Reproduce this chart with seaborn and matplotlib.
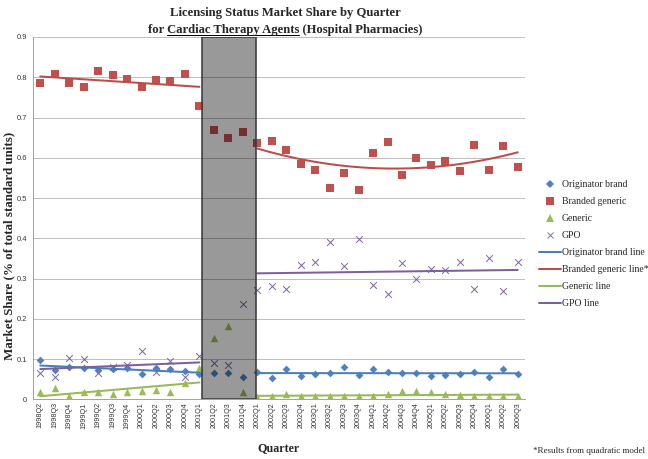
import numpy as np
import pandas as pd
import matplotlib
matplotlib.use("Agg")
import matplotlib.pyplot as plt
from matplotlib.patches import Rectangle
from matplotlib.lines import Line2D
import seaborn as sns

quarters = ["1998Q2", "1998Q3", "1998Q4", "1999Q1", "1999Q2", "1999Q3", "1999Q4",
            "2000Q1", "2000Q2", "2000Q3", "2000Q4", "2001Q1", "2001Q2", "2001Q3",
            "2001Q4", "2002Q1", "2002Q2", "2002Q3", "2002Q4", "2003Q1", "2003Q2",
            "2003Q3", "2003Q4", "2004Q1", "2004Q2", "2004Q3", "2004Q4", "2005Q1",
            "2005Q2", "2005Q3", "2005Q4", "2006Q1", "2006Q2", "2006Q3"]

originator = [0.098, 0.073, 0.079, 0.077, 0.073, 0.075, 0.077, 0.062, 0.077, 0.076, 0.070, 0.063,
              0.065, 0.065, 0.056,
              0.067, 0.052, 0.075, 0.058, 0.062, 0.065, 0.079,
              0.060, 0.075, 0.068, 0.065, 0.065, 0.058, 0.060, 0.062, 0.068, 0.056, 0.075, 0.062]
branded = [0.786, 0.809, 0.786, 0.776, 0.816, 0.806, 0.795, 0.777, 0.792, 0.791, 0.807, 0.728,
           0.668, 0.650, 0.665,
           0.637, 0.641, 0.620, 0.585, 0.570, 0.524, 0.563,
           0.519, 0.611, 0.638, 0.556, 0.599, 0.583, 0.592, 0.566, 0.631, 0.570, 0.628, 0.577]
generic = [0.019, 0.027, 0.007, 0.017, 0.017, 0.012, 0.017, 0.021, 0.024, 0.019, 0.040, 0.077,
           0.152, 0.181, 0.017,
           0.005, 0.007, 0.013, 0.007, 0.007, 0.007, 0.009,
           0.007, 0.008, 0.012, 0.021, 0.020, 0.017, 0.012, 0.011, 0.007, 0.008, 0.008, 0.007]
gpo = [0.066, 0.056, 0.102, 0.099, 0.065, 0.080, 0.085, 0.119, 0.069, 0.095, 0.056, 0.108,
       0.091, 0.085, 0.236,
       0.272, 0.282, 0.273, 0.333, 0.342, 0.390, 0.331,
       0.398, 0.284, 0.262, 0.338, 0.298, 0.323, 0.322, 0.342, 0.275, 0.350, 0.268, 0.342]

series_names = ["Originator brand", "Branded generic", "Generic", "GPO"]
pre_period = ("1998Q2", "2001Q1")
post_period = ("2002Q1", "2006Q3")
shaded_period = ("2001Q1", "2002Q1")

sns.set_theme(style="white")
SERIF = ["Liberation Serif", "DejaVu Serif"]
SANS = ["Liberation Sans", "DejaVu Sans"]
plt.rcParams["font.family"] = SANS

colors = {"Originator brand": "#4F81BD", "Branded generic": "#C0504D",
          "Generic": "#9BBB59", "GPO": "#8064A2"}
line_colors = {"Originator brand": "#4A7EBB", "Branded generic": "#BE4B48",
               "Generic": "#98B954", "GPO": "#7D5FA0"}
markers = {"Originator brand": "D", "Branded generic": "s", "Generic": "^", "GPO": "x"}
msizes = {"Originator brand": 30, "Branded generic": 55, "Generic": 55, "GPO": 45}

values = {"Originator brand": originator, "Branded generic": branded,
          "Generic": generic, "GPO": gpo}
idx = np.arange(len(quarters))
df = pd.concat([pd.DataFrame({"x": idx, "quarter": quarters, "share": values[n], "series": n})
                for n in series_names], ignore_index=True)

fig = plt.figure(figsize=(9, 6.375), dpi=72)
ax = fig.add_axes([33 / 648, 1 - 399.3 / 459, (525 - 33) / 648, (399.3 - 37) / 459])

for n in series_names:
    sub = df[df.series == n]
    kw = dict(linewidth=0) if n != "GPO" else dict(linewidth=1.0)
    sns.scatterplot(data=sub, x="x", y="share", marker=markers[n], color=colors[n],
                    s=msizes[n], ax=ax, zorder=3, legend=False, **kw)

# trend lines (fits to the data, per period)
p0, p1 = quarters.index(pre_period[0]), quarters.index(pre_period[1])
q0, q1 = quarters.index(post_period[0]), quarters.index(post_period[1])
for n in series_names:
    sub = df[df.series == n]
    pre = sub[(sub.x >= p0) & (sub.x <= p1)]
    post = sub[(sub.x >= q0) & (sub.x <= q1)]
    sns.regplot(data=pre, x="x", y="share", order=1, scatter=False, ci=None, ax=ax,
                line_kws=dict(color=line_colors[n], lw=2.0, zorder=4))
    order = 2 if n == "Branded generic" else 1
    sns.regplot(data=post, x="x", y="share", order=order, scatter=False, ci=None, ax=ax,
                line_kws=dict(color=line_colors[n], lw=2.0, zorder=4))

# shaded transition period
s0, s1 = quarters.index(shaded_period[0]), quarters.index(shaded_period[1])
ax.add_patch(Rectangle((s0 + 0.15, 0), (s1 - 0.1) - (s0 + 0.15), 0.9,
                       facecolor=(0.0, 0.0, 0.0, 0.40), edgecolor="#3c3c3c",
                       linewidth=1.6, zorder=6))

ax.set_xlim(-0.5, len(quarters) - 0.5)
ax.set_ylim(0, 0.9)
ax.set_yticks(np.arange(0, 0.91, 0.1))
ax.set_yticklabels(["0"] + [f"{v:.1f}" for v in np.arange(0.1, 0.91, 0.1)])
ax.set_xticks(idx)
ax.set_xticklabels(quarters, rotation=90, fontsize=7.3, color="#333333")
ax.set_xticks(np.arange(-0.5, len(quarters)), minor=True)
ax.tick_params(axis="x", which="major", length=0, pad=3)
ax.tick_params(axis="x", which="minor", length=4, color="#999999", width=0.8)
ax.tick_params(axis="y", length=4, color="#999999", width=0.8, labelsize=7.5,
               labelcolor="#333333", pad=2)
ax.yaxis.grid(True, color="#b8b8b8", linewidth=0.9)
ax.xaxis.grid(False)
ax.set_axisbelow(True)
for sp in ["top", "right"]:
    ax.spines[sp].set_visible(False)
for sp in ["left", "bottom"]:
    ax.spines[sp].set_color("#999999")
    ax.spines[sp].set_linewidth(0.9)
ax.set_xlabel("")
ax.set_ylabel("")

# legend
handles = []
labels = []
for n in series_names:
    if n == "GPO":
        handles.append(Line2D([], [], linestyle="none", marker="x", color=colors[n],
                              markersize=6.5, markeredgewidth=0.9))
    else:
        handles.append(Line2D([], [], linestyle="none", marker=markers[n], color=colors[n],
                              markeredgewidth=0, markersize={"D": 5.5, "s": 7.5, "^": 7.5}[markers[n]]))
    labels.append(n)
for n in series_names:
    handles.append(Line2D([], [], color=line_colors[n], lw=2.0))
    labels.append(n + " line" + ("*" if n == "Branded generic" else ""))
fig.legend(handles, labels, loc="upper left", bbox_to_anchor=(539 / 648, 1 - 180 / 459),
           frameon=False, prop={"family": SERIF, "size": 9.8}, handlelength=2.2,
           handletextpad=0.15, labelspacing=0.82, borderpad=0, borderaxespad=0)

# titles and axis labels
fig.text(9 / 648, 1 - 246 / 459, "Market Share (% of total standard units)", rotation=90,
         ha="center", va="center", family=SERIF, weight="bold", fontsize=13)
fig.text(279 / 648, 1 - 448 / 459, "Quarter", ha="center", va="center",
         family=SERIF, weight="bold", fontsize=12)
fig.text(645 / 648, 1 - 451 / 459, "*Results from quadratic model", ha="right", va="center",
         family=SERIF, fontsize=9)

TSIZE = 12.6
tkw = dict(family=SERIF, weight="bold", fontsize=TSIZE, ha="center", va="center")
fig.text(285 / 648, 1 - 13 / 459, "Licensing Status Market Share by Quarter", **tkw)
pre_t, mid_t, post_t = "for ", "Cardiac Therapy Agents", " (Hospital Pharmacies)"
t2 = fig.text(285 / 648, 1 - 30 / 459, pre_t + mid_t + post_t, **tkw)
fig.canvas.draw()
r = fig.canvas.get_renderer()

def textw(s):
    t = fig.text(0, 0, s, family=SERIF, weight="bold", fontsize=TSIZE)
    w = t.get_window_extent(r).width
    t.remove()
    return w

bb = t2.get_window_extent(r)
sp_w = textw("a b") - textw("ab")
x_start = bb.x0 + textw("for") + sp_w
x_end = x_start + textw(mid_t)
y_ul = bb.y0 + 1.5
fig.add_artist(Line2D([x_start / 648, x_end / 648], [y_ul / 459, y_ul / 459],
                      transform=fig.transFigure, color="black", lw=1.0))

fig.savefig("out.png", dpi=72)
